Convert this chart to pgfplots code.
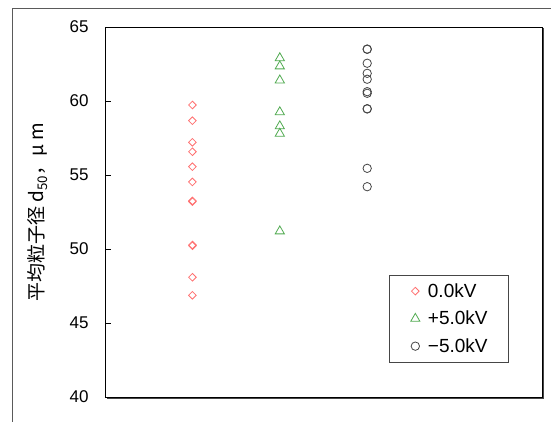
\documentclass[border=0pt]{standalone}
\usepackage{fontspec}
\setmainfont{Liberation Sans}
\newfontfamily\cjk{Noto Sans CJK JP}
\usepackage{pgfplots}
\pgfplotsset{compat=1.18}
\definecolor{cred}{RGB}{255,112,112}
\definecolor{cgreen}{RGB}{80,170,80}
\definecolor{cgray}{RGB}{70,70,70}
\definecolor{outer}{RGB}{90,90,90}
\begin{document}
\begin{tikzpicture}[x=1pt,y=1pt]
\useasboundingbox (0,0) rectangle (551,422);
\draw[color=outer, line width=1pt] (12,0) -- (12,413) -- (551,413);
\draw[color=cgray, line width=1.6pt] (543.3,394) -- (543.3,23.7) -- (107,23.7);
\begin{axis}[
  at={(105pt,25pt)}, anchor=south west,
  scale only axis, width=437pt, height=370pt,
  xmin=0, xmax=5, ymin=40, ymax=65,
  ytick={40,45,...,65}, xtick=\empty,
  ytick pos=left,
  tick align=inside, major tick length=6pt,
  axis line style={black, line width=0.9pt},
  tick style={black, line width=0.6pt},
  /pgf/number format/assume math mode=true,
  yticklabel style={font=\fontsize{17}{19}\selectfont, xshift=-13pt},
  ylabel={\cjk 平均粒子径 d\textsubscript{50}，μ m},
  ylabel style={at={(axis description cs:-0.155,0.5)}, anchor=center, font=\fontsize{19}{21}\selectfont},
  legend style={at={(0.9245,0.3297)}, anchor=north east, draw=cgray, line width=0.8pt,
    font=\fontsize{19}{21}\selectfont, inner xsep=21pt, inner ysep=2pt,
    nodes={text height=14pt, text depth=1.5pt, inner ysep=6pt, inner xsep=0pt},
    /tikz/every odd column/.append style={column sep=8pt}},
  legend cell align=left,
  legend image code/.code={\path (-4pt,0pt); \draw[#1] plot coordinates {(0pt,0pt)};},
]
\addplot[only marks, mark=square, mark size=2.7pt, mark options={rotate=45, draw=cred, line width=0.8pt}] coordinates {
(1,59.73) (1,58.67) (1,57.21) (1,56.57) (1,55.56) (1,54.53) (1,53.2) (1,53.25) (1,50.22) (1,50.27) (1,48.09) (1,46.87)};
\addlegendentry{0.0kV}
\addplot[only marks, mark=triangle, mark size=5.3pt, mark options={draw=cgreen, line width=0.8pt}] coordinates {
(2,62.9) (2,62.35) (2,61.4) (2,59.25) (2,58.3) (2,57.8) (2,51.2)};
\addlegendentry{+5.0kV}
\addplot[only marks, mark=o, mark size=4.2pt, mark options={draw=cgray, line width=0.8pt}] coordinates {
(3,63.51) (3,63.49) (3,62.55) (3,61.87) (3,61.47) (3,60.63) (3,60.52) (3,59.46) (3,59.48) (3,55.45) (3,54.21)};
\addlegendentry{−5.0kV}
\end{axis}
\end{tikzpicture}
\end{document}
